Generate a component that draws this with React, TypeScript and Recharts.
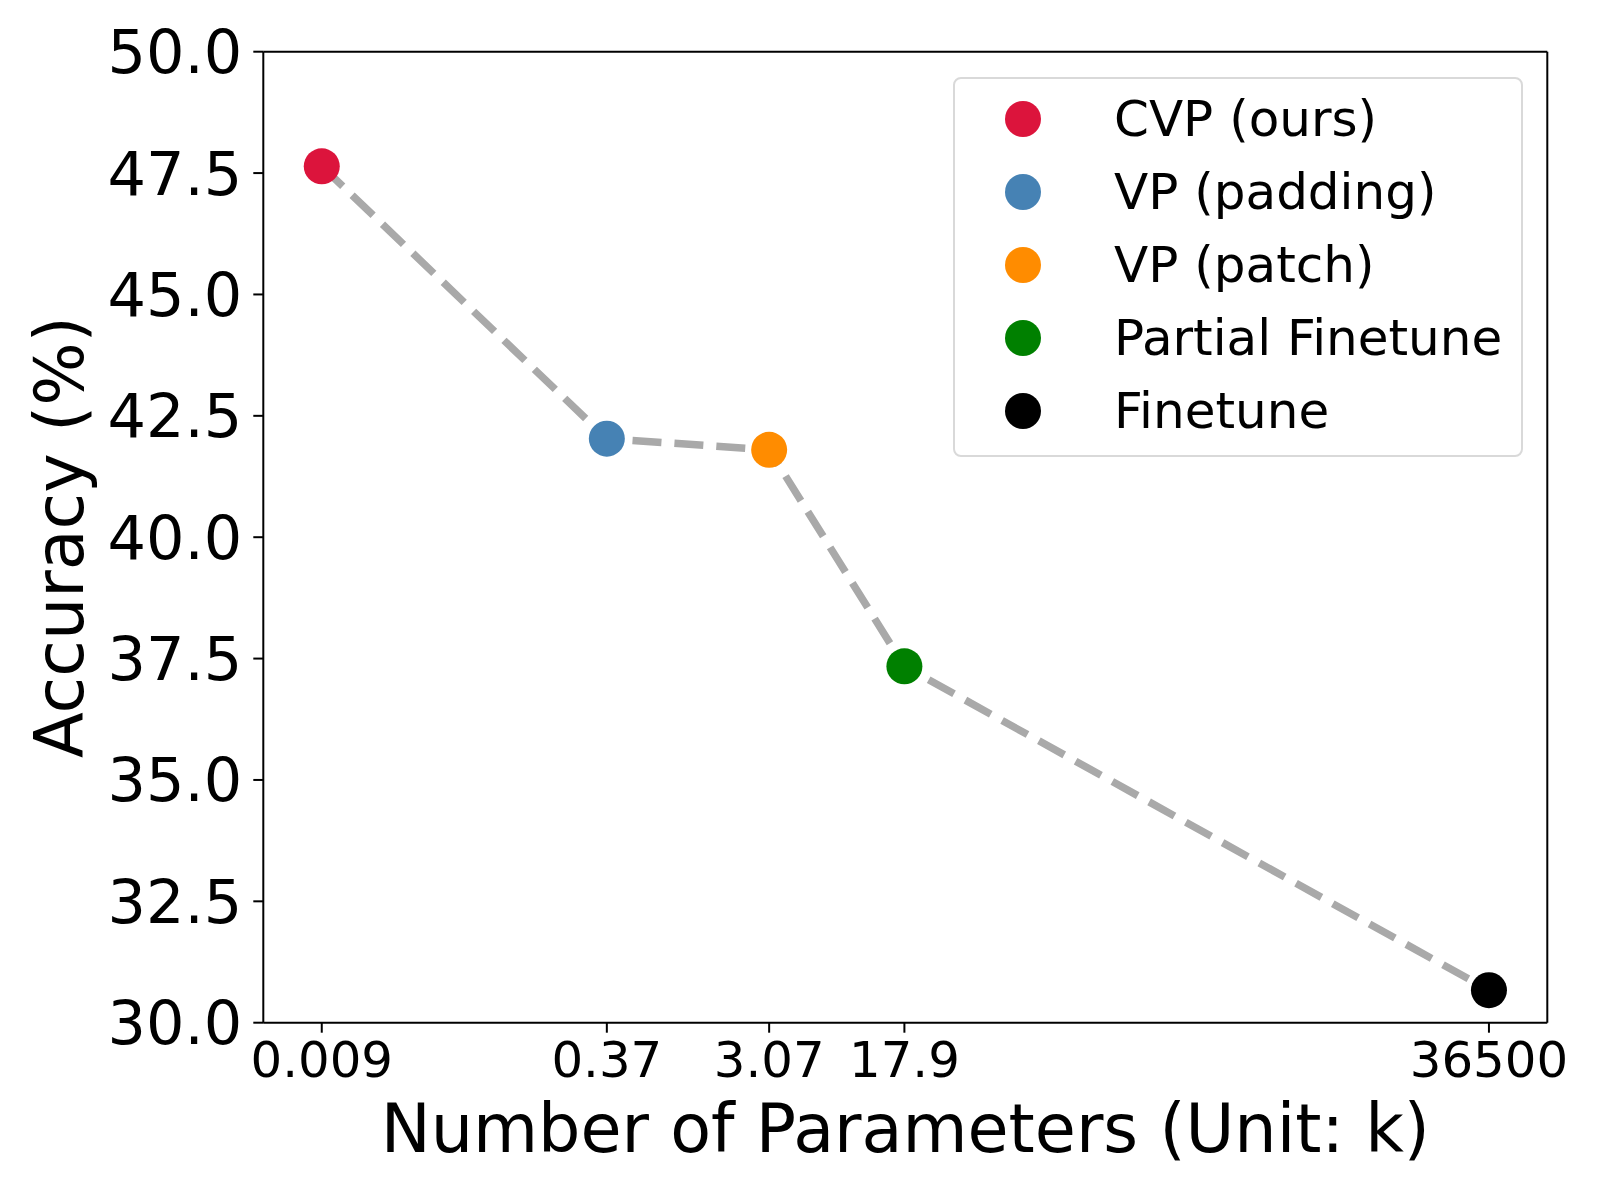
import { LineChart, Line, XAxis, YAxis, ReferenceLine } from 'recharts';

const methods = ['CVP (ours)', 'VP (padding)', 'VP (patch)', 'Partial Finetune', 'Finetune'];
const paramCounts = [0.009, 0.37, 3.07, 17.9, 36500];
const accuracy = [47.64, 42.03, 41.8, 37.34, 30.67];
const pointColors = ['#DC143C', '#4682B4', '#FF8C00', '#008000', '#000000'];
const yTicks = [30, 32.5, 35, 37.5, 40, 42.5, 45, 47.5, 50];
const xDomain: [number, number] = [0.0042, 78100];

const FONT = '"DejaVu Sans", sans-serif';

const data = paramCounts.map((p, i) => ({
	params: p,
	acc: accuracy[i],
	name: methods[i],
	color: pointColors[i],
}));

function renderDot(props: any) {
	const { cx, cy, index, payload } = props;
	return <circle key={`dot-${index}`} cx={cx} cy={cy} r={18} fill={payload.color} stroke="none" />;
}

function XTitle(props: any) {
	const vb = props.viewBox || { x: 263, y: 1023, width: 1284, height: 177 };
	return (
		<text x={vb.x + vb.width / 2} y={vb.y + 129} textAnchor="middle" fontSize={66.8} fontFamily={FONT} fill="#000">
			Number of Parameters (Unit: k)
		</text>
	);
}

function YTitle(props: any) {
	const vb = props.viewBox || { x: 0, y: 52, width: 263, height: 971 };
	const x = vb.x + 83;
	const y = vb.y + vb.height / 2;
	return (
		<text x={x} y={y} transform={`rotate(-90, ${x}, ${y})`} textAnchor="middle" fontSize={66.8} fontFamily={FONT} fill="#000">
			Accuracy (%)
		</text>
	);
}

export default function App() {
	return (
		<div style={styles.page}>
			<LineChart width={1600} height={1200} data={data} margin={{ top: 51.7, right: 52.7, bottom: 0, left: 0 }}>
				<XAxis
					dataKey="params"
					type="number"
					scale="log"
					domain={xDomain}
					allowDataOverflow
					ticks={paramCounts}
					tickFormatter={(v: number) => String(v)}
					height={177.3}
					tickSize={10}
					tickMargin={9}
					tick={{ fill: '#000', fontSize: 49.8, fontFamily: FONT }}
					axisLine={{ stroke: '#000', strokeWidth: 2 }}
					tickLine={{ stroke: '#000', strokeWidth: 2 }}
					label={<XTitle />}
				/>
				<YAxis
					type="number"
					domain={[30, 50]}
					allowDataOverflow
					ticks={yTicks}
					tickFormatter={(v: number) => v.toFixed(1)}
					width={263.3}
					tickSize={10}
					tickMargin={11}
					tick={{ fill: '#000', fontSize: 60.5, fontFamily: FONT }}
					axisLine={{ stroke: '#000', strokeWidth: 2 }}
					tickLine={{ stroke: '#000', strokeWidth: 2 }}
					label={<YTitle />}
				/>
				<ReferenceLine y={50} stroke="#000" strokeWidth={2} />
				<ReferenceLine x={xDomain[1]} stroke="#000" strokeWidth={2} />
				<Line
					type="linear"
					dataKey="acc"
					stroke="#A9A9A9"
					strokeWidth={7.5}
					strokeDasharray="29 13"
					dot={renderDot}
					activeDot={false}
					isAnimationActive={false}
				/>
			</LineChart>
			<div style={styles.legend}>
				{methods.map((m, i) => (
					<div key={m} style={styles.row}>
						<div style={{ ...styles.marker, background: pointColors[i] }} />
						<span style={styles.label}>{m}</span>
					</div>
				))}
			</div>
		</div>
	);
}

const styles: Record<string, React.CSSProperties> = {
	page: {
		position: 'absolute',
		left: 0,
		top: 0,
		width: 1600,
		height: 1200,
		background: '#fff',
	},
	legend: {
		position: 'absolute',
		left: 953,
		top: 77,
		width: 570,
		height: 380,
		boxSizing: 'border-box',
		border: '2px solid #d9d9d9',
		borderRadius: 8,
		background: 'rgba(255,255,255,0.8)',
		paddingTop: 3,
	},
	row: {
		display: 'flex',
		alignItems: 'center',
		height: 73,
	},
	marker: {
		width: 36,
		height: 36,
		borderRadius: '50%',
		marginLeft: 50,
		flexShrink: 0,
	},
	label: {
		marginLeft: 73,
		fontSize: 50,
		fontFamily: FONT,
		color: '#000',
		lineHeight: 'normal',
		whiteSpace: 'nowrap',
	},
};
